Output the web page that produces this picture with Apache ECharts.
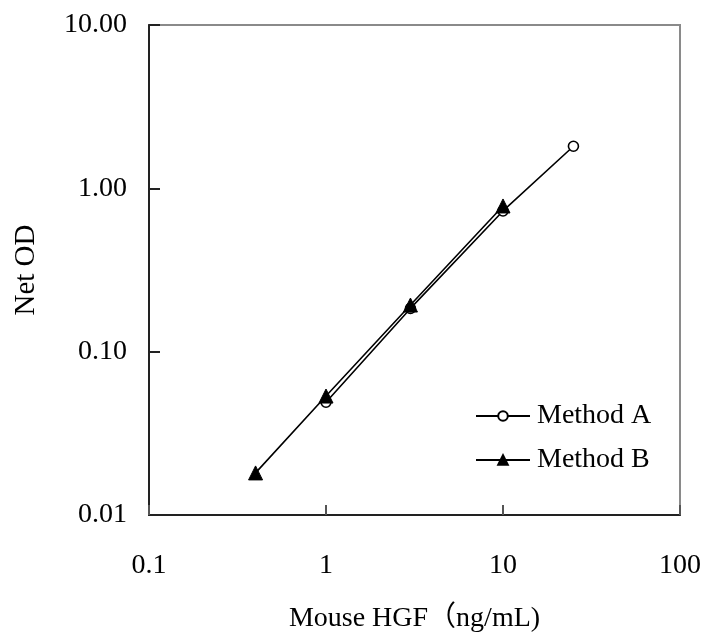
<!DOCTYPE html>
<html>
<head>
<meta charset="utf-8">
<script src="https://cdn.jsdelivr.net/npm/echarts@6/dist/echarts.min.js"></script>
<style>
html,body{margin:0;padding:0;background:#fff;}
#chart{width:702px;height:634px;}
</style>
</head>
<body>
<div id="chart"></div>
<script>
// Data
const seriesNames = ['Method A', 'Method B'];
const methodA_x = [1, 3, 10, 25];
const methodA_y = [0.049, 0.184, 0.727, 1.81];
const methodB_x = [0.4, 1, 3, 10];
const methodB_y = [0.0181, 0.0535, 0.193, 0.78];
const xTickLabels = ['0.1', '1', '10', '100'];
const yTickLabels = ['0.01', '0.10', '1.00', '10.00'];
const xAxisTitle = 'Mouse HGF（ng/mL)';
const yAxisTitle = 'Net OD';

const font = '"Liberation Serif", "Times New Roman", "Noto Sans CJK JP", serif';

function pairs(xs, ys) { return xs.map((x, i) => [x, ys[i]]); }

const chart = echarts.init(document.getElementById('chart'), null, {renderer: 'canvas'});
chart.setOption({
  animation: false,
  backgroundColor: '#fff',
  textStyle: {fontFamily: font, color: '#000'},
  grid: {
    left: 149, top: 25, right: 22, bottom: 119,
    containLabel: false, outerBoundsMode: 'none',
    show: true, borderColor: '#8a8a8a', borderWidth: 2, backgroundColor: 'transparent'
  },
  legend: {
    orient: 'vertical',
    left: 475, top: 402, padding: 0,
    itemWidth: 54, itemHeight: 12, itemGap: 16,
    textStyle: {fontFamily: font, fontSize: 28, color: '#000', padding: [0, 0, 0, 2]},
    data: seriesNames
  },
  xAxis: {
    type: 'log', logBase: 10, min: 0.1, max: 100,
    name: xAxisTitle, nameLocation: 'middle', nameGap: 90,
    nameTextStyle: {fontFamily: font, fontSize: 28, color: '#000'},
    axisLine: {show: true, lineStyle: {color: '#222', width: 2}},
    axisTick: {show: true, inside: true, length: 10, lineStyle: {color: '#555', width: 2}},
    axisLabel: {
      fontFamily: font, fontSize: 28, color: '#000', margin: 37,
      formatter: function (v) { return xTickLabels[Math.round(Math.log10(v) + 1)]; }
    },
    splitLine: {show: false},
    minorTick: {show: false}
  },
  yAxis: {
    type: 'log', logBase: 10, min: 0.01, max: 10,
    name: yAxisTitle, nameLocation: 'middle', nameGap: 108, nameRotate: 90,
    nameTextStyle: {fontFamily: font, fontSize: 29, color: '#000'},
    axisLine: {show: true, lineStyle: {color: '#222', width: 2}},
    axisTick: {show: true, inside: true, length: 11, lineStyle: {color: '#222', width: 2}},
    axisLabel: {
      fontFamily: font, fontSize: 28, color: '#000', margin: 22,
      formatter: function (v) { return yTickLabels[Math.round(Math.log10(v) + 2)]; }
    },
    splitLine: {show: false}
  },
  series: [
    {
      name: seriesNames[0], type: 'line',
      data: pairs(methodA_x, methodA_y),
      symbol: 'circle', symbolSize: 10,
      lineStyle: {color: '#000', width: 1.6},
      itemStyle: {color: '#fff', borderColor: '#000', borderWidth: 1.6},
      z: 3
    },
    {
      name: seriesNames[1], type: 'line',
      data: pairs(methodB_x, methodB_y),
      symbol: 'triangle', symbolSize: 14,
      lineStyle: {color: '#000', width: 1.6},
      itemStyle: {color: '#000', borderColor: '#000', borderWidth: 1},
      z: 4
    }
  ]
});
</script>
</body>
</html>
